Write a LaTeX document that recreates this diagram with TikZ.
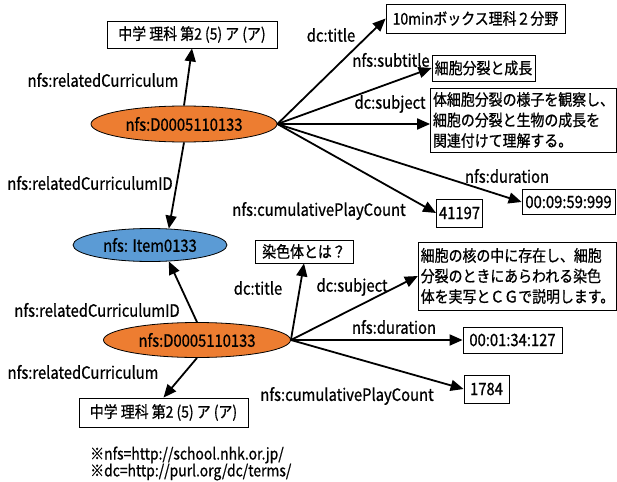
\documentclass[tikz,border=0pt]{standalone}
\usepackage{fontspec}
\setmainfont{Noto Sans CJK JP}[FakeStretch=0.87, FakeBold=0.8]
\usetikzlibrary{shapes.geometric,arrows.meta}
\definecolor{orangeE}{HTML}{ED7D31}
\definecolor{blueE}{HTML}{5B9BD5}
\begin{document}
\begin{tikzpicture}[x=1pt,y=-1pt,
 every node/.style={font=\fontsize{17}{20.5}\selectfont, inner sep=0pt},
 jp/.style={font=\fontsize{16}{20.5}\selectfont},
 lat/.style={font=\fontsize{17}{20.5}\selectfont},
 res/.style={ellipse, draw=black, line width=0.8pt, inner sep=0pt},
 lit/.style={draw=black, line width=0.8pt, inner xsep=2.5pt, inner ysep=3pt, fill=white, jp},
 lbl/.style={},
 arr/.style={line width=1.8pt, -{Triangle[length=13pt,width=11pt]}}]
\useasboundingbox (0,0) rectangle (617,481);
% resources
\node[res, fill=orangeE, minimum width=186, minimum height=36] (e1) at (184,124) {nfs:D0005110133};
\node[res, fill=blueE, minimum width=154, minimum height=33] (ib) at (150,245) {nfs: Item0133};
\node[res, fill=orangeE, minimum width=187, minimum height=35] (e2) at (197,340) {nfs:D0005110133};
% literals top
\node[lit, minimum width=170, minimum height=27] (c1) at (192,34.5) {中学 理科 第2 (5) ア (ア)};
\node[lit, minimum width=179, minimum height=29] (t1) at (475.5,18.5) {10minボックス理科２分野};
\node[lit, minimum width=103, minimum height=26] (st1) at (483.5,68) {細胞分裂と成長};
\node[lit, minimum width=183, minimum height=64, align=left] (sj1) at (523.5,120) {体細胞分裂の様子を観察し、\\細胞の分裂と生物の成長を\\関連付けて理解する。};
\node[lit, minimum width=93, minimum height=25, lat] (du1) at (568.5,202) {00:09:59:999};
\node[lit, minimum width=35, minimum height=28, lat] (pc1) at (459.5,213) {41197};
% literals bottom
\node[lit, minimum width=169, minimum height=29] (c2) at (163.5,412.5) {中学 理科 第2 (5) ア (ア)};
\node[lit, minimum width=98, minimum height=23] (t2) at (304,251.5) {染色体とは？};
\node[lit, minimum width=195, minimum height=68, align=left] (sj2) at (517.5,276) {細胞の核の中に存在し、細胞\\分裂のときにあらわれる染色\\体を実写とＣＧで説明します。};
\node[lit, minimum width=99, minimum height=26, lat] (du2) at (512.5,340) {00:01:34:127};
\node[lit, minimum width=45, minimum height=28, lat] (pc2) at (486.5,389) {1784};
% edges top
\draw[arr] (e1.north) -- (c1.south);
\draw[arr] (e1.south) -- (ib.41);
\draw[arr] (e1.east) -- (t1.west);
\draw[arr] (e1.east) -- (st1.west);
\draw[arr] (e1.east) -- (sj1.west |- e1.east);
\draw[arr] (e1.east) -- (du1.west);
\draw[arr] (e1.east) -- (pc1.west);
% edges bottom
\draw[arr] (e2.north) -- (ib.-41);
\draw[arr] (e2.south) -- (c2.north);
\draw[arr] (e2.east) -- (t2.south);
\draw[arr] (e2.east) -- (sj2.west);
\draw[arr] (e2.east) -- (du2.west);
\draw[arr] (e2.east) -- (pc2.west);
% labels
\node[lbl] (l1) at (103,80) {nfs:relatedCurriculum};
\node[lbl] (l2) at (90,183) {nfs:relatedCurriculumID};
\node[lbl] (l3) at (331,35) {dc:title};
\node[lbl] (l4) at (391,60) {nfs:subtitle};
\node[lbl] (l5) at (390,104) {dc:subject};
\node[lbl] (l6) at (507,176) {nfs:duration};
\node[lbl] (l7) at (319,211) {nfs:cumulativePlayCount};
\node[lbl] (l8) at (97,310) {nfs:relatedCurriculumID};
\node[lbl] (l9) at (83,372) {nfs:relatedCurriculum};
\node[lbl] (l10) at (258,288) {dc:title};
\node[lbl] (l11) at (352,287) {dc:subject};
\node[lbl] (l12) at (394,327) {nfs:duration};
\node[lbl] (l13) at (347,396) {nfs:cumulativePlayCount};
\node[lbl, anchor=west, jp] (n1) at (90,455) {※nfs=http://school.nhk.or.jp/};
\node[lbl, anchor=west, jp] (n2) at (90,472) {※dc=http://purl.org/dc/terms/};
\end{tikzpicture}
\end{document}
